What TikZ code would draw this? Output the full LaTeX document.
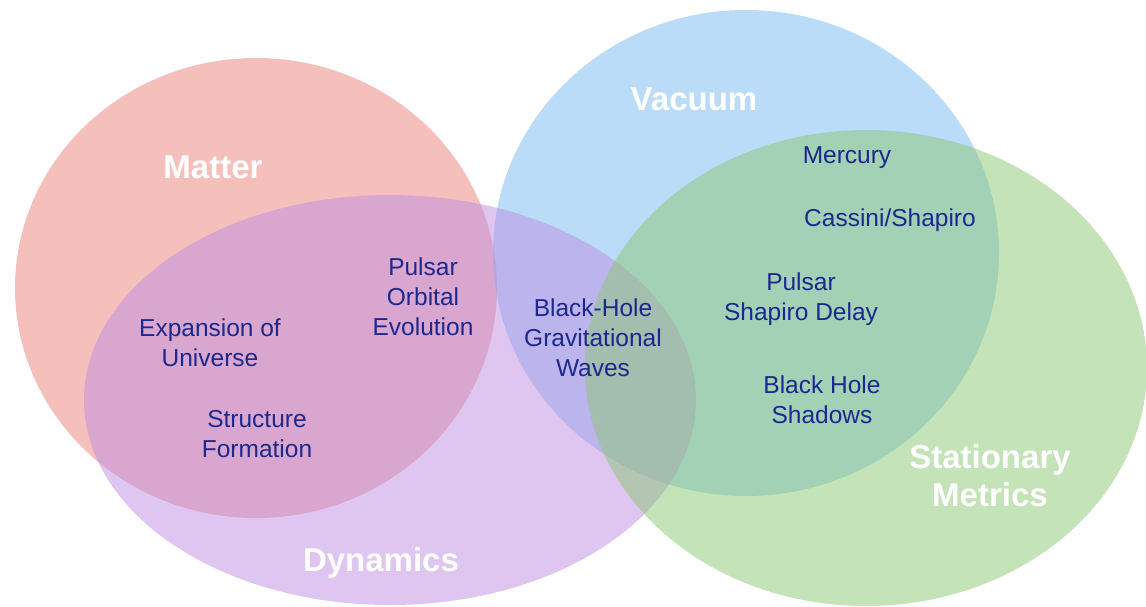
\documentclass[tikz,border=0pt]{standalone}
\usepackage{fontspec}
\setmainfont{Liberation Sans}
\definecolor{matterc}{RGB}{235,129,121}
\definecolor{dync}{RGB}{191,141,227}
\definecolor{vacc}{RGB}{117,185,241}
\definecolor{statc}{RGB}{139,199,115}
\definecolor{itemc}{RGB}{28,40,142}
\begin{document}
\begin{tikzpicture}[x=1pt,y=-1pt,
  setfill/.style={fill=#1,fill opacity=0.5},
  setlabel/.style={text=white,font=\fontsize{33}{38}\selectfont\bfseries,align=center},
  item/.style={text=itemc,font=\fontsize{24.5}{30}\selectfont,align=center,inner sep=0pt}]
\useasboundingbox (0,0) rectangle (1146,607);
\fill[setfill=matterc] (256,288) ellipse [x radius=241pt, y radius=230pt];
\fill[setfill=vacc] (746,253) ellipse [x radius=253pt, y radius=243pt];
\fill[setfill=dync] (390,400) ellipse [x radius=306pt, y radius=205pt];
\fill[setfill=statc] (866,368) ellipse [x radius=281pt, y radius=238pt];
\node[setlabel] (lmatter) at (213,167) {Matter};
\node[setlabel] (lvac) at (694,99) {Vacuum};
\node[setlabel] (ldyn) at (381,563) {Dynamics};
\node[setlabel] (lstat) at (990,476) {Stationary\\Metrics};
\node[item] (mercury) at (847,158) {Mercury};
\node[item] (cassini) at (890,220) {Cassini/Shapiro};
\node[item] (pshap) at (801,299) {Pulsar\\Shapiro Delay};
\node[item] (bhs) at (822,400) {Black Hole\\Shadows};
\node[item] (bhgw) at (593,338) {Black-Hole\\Gravitational\\Waves};
\node[item] (porb) at (423,297) {Pulsar\\Orbital\\Evolution};
\node[item] (expu) at (210,343) {Expansion of\\Universe};
\node[item] (struc) at (257,434) {Structure\\Formation};
\end{tikzpicture}
\end{document}
